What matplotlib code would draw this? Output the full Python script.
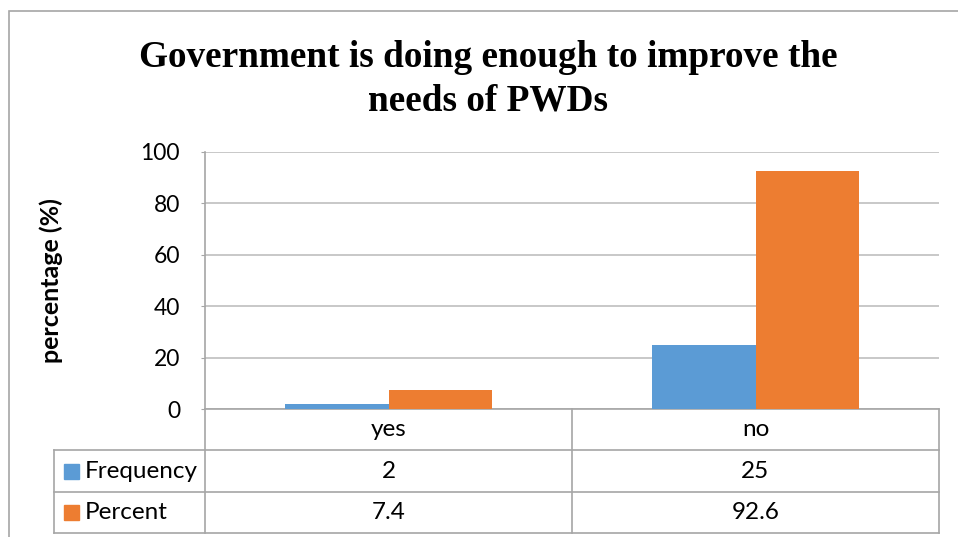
import matplotlib.pyplot as plt
import matplotlib.transforms as mtransforms
from matplotlib.lines import Line2D
from matplotlib.patches import Rectangle

categories = ['yes', 'no']
series_names = ['Frequency', 'Percent']
frequency = [2, 25]
percent = [7.4, 92.6]
colors = ['#5B9BD5', '#ED7D31']

W, H = 958, 537
GRID = '#BFBFBF'
LINE = '#A6A6A6'
FONT = 'Lato'
FS = 16.5
TFS = 17.5

fig = plt.figure(figsize=(W / 100, H / 100), dpi=100)


def fx(px):
    return px / W


def fy(py):
    return 1 - py / H


# outer chart border (cut off at right/bottom like the screenshot)
fig.add_artist(Rectangle((fx(9), fy(560)), fx(980 - 9), fy(11) - fy(560),
                         transform=fig.transFigure, fill=False,
                         edgecolor=LINE, linewidth=1.2))

fig.text(fx(488), fy(57), 'Government is doing enough to improve the',
         ha='center', va='center', fontsize=26.8, fontweight='bold',
         family='Liberation Serif')
fig.text(fx(488), fy(101), 'needs of PWDs',
         ha='center', va='center', fontsize=26.8, fontweight='bold',
         family='Liberation Serif')

ax = fig.add_axes([fx(205), fy(409), fx(939 - 205), fy(152) - fy(409)])
x = list(range(len(categories)))
bw = 0.283
ax.bar([i - bw / 2 for i in x], frequency, bw, color=colors[0], zorder=3)
ax.bar([i + bw / 2 for i in x], percent, bw, color=colors[1], zorder=3)

ax.set_xlim(-0.5, len(categories) - 0.5)
ax.set_ylim(0, 100)
ax.set_yticks(range(0, 101, 20))
ax.yaxis.grid(True, color=GRID, linewidth=1.2, zorder=0)
ax.set_xticks([])
for s in ['top', 'right']:
    ax.spines[s].set_visible(False)
for s in ['left', 'bottom']:
    ax.spines[s].set_color(LINE)
    ax.spines[s].set_linewidth(1.2)
ax.tick_params(axis='y', length=3, color=LINE, pad=15, labelsize=FS)
for lab in ax.get_yticklabels():
    lab.set_family(FONT)
ax.set_ylabel('percentage (%)', fontsize=18, fontweight='bold', family=FONT)
ax.yaxis.set_label_coords(fx(63 - 205) / fx(939 - 205), 0.5)

# data table below the plot
tr = mtransforms.blended_transform_factory(ax.transData, fig.transFigure)
rows_y = [409, 450, 492, 533]
left_x = fx(54)
x_edges = [i - 0.5 for i in range(len(categories) + 1)]

for ypx in rows_y[1:]:
    fig.add_artist(Line2D([left_x, fx(939)], [fy(ypx), fy(ypx)],
                          transform=fig.transFigure, color=LINE, linewidth=1.2))
for xe in x_edges:
    fig.add_artist(Line2D([xe, xe], [fy(rows_y[0]), fy(rows_y[-1])],
                          transform=tr, color=LINE, linewidth=1.2))
fig.add_artist(Line2D([left_x, left_x], [fy(rows_y[1]), fy(rows_y[-1])],
                      transform=fig.transFigure, color=LINE, linewidth=1.2))

for i, c in enumerate(categories):
    ax.text(i, fy((rows_y[0] + rows_y[1]) / 2), c, transform=tr,
            ha='center', va='center', fontsize=TFS, family=FONT)

for r, (name, vals) in enumerate(zip(series_names, [frequency, percent])):
    yc = fy((rows_y[r + 1] + rows_y[r + 2]) / 2)
    fig.add_artist(Rectangle((fx(64), yc - 7.5 / H), 15 / W, 15 / H,
                             transform=fig.transFigure, color=colors[r]))
    fig.text(fx(85), yc, name, ha='left', va='center', fontsize=TFS,
             family=FONT)
    for i, v in enumerate(vals):
        ax.text(i, yc, f'{v:g}', transform=tr, ha='center', va='center',
                fontsize=TFS, family=FONT)

fig.savefig('out.png', dpi=100)
